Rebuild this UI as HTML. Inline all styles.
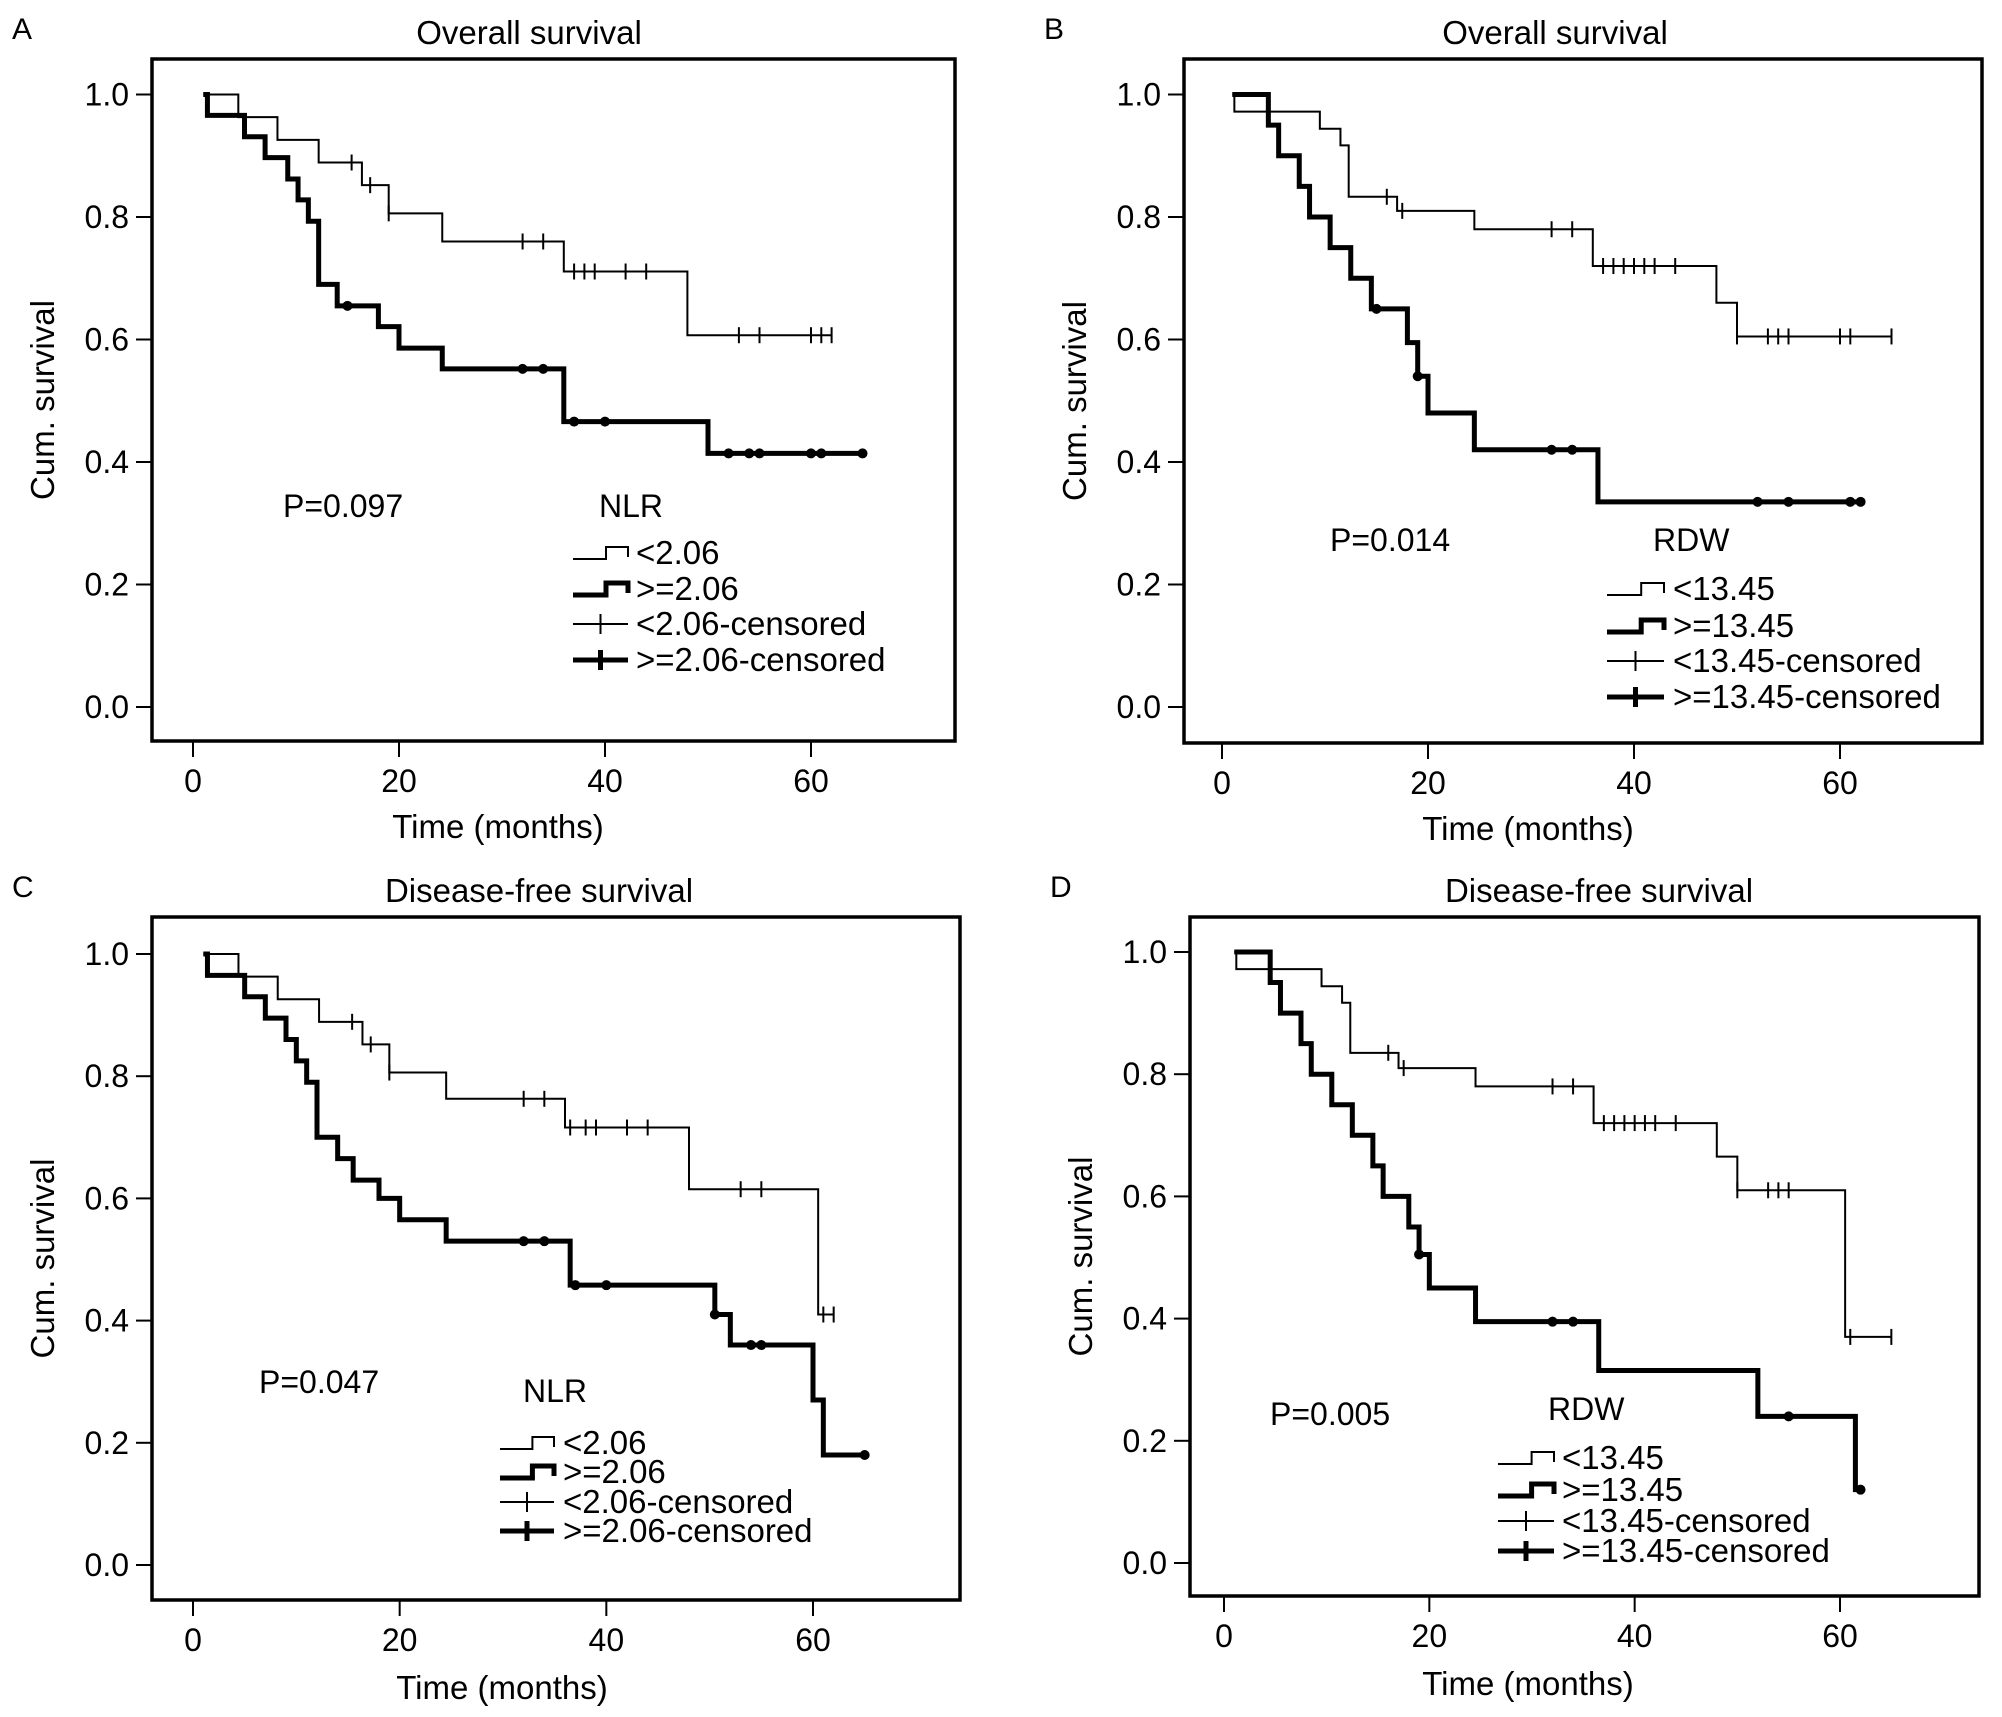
<!DOCTYPE html>
<html><head><meta charset="utf-8"><style>
html,body{margin:0;padding:0;background:#fff;}
svg{display:block;font-family:"Liberation Sans",Arial,sans-serif;}
</style></head><body>
<svg id="fig" width="2002" height="1717" viewBox="0 0 2002 1717" xmlns="http://www.w3.org/2000/svg"></svg>
<script>
// Panel A data
const aThinT=[4.4,8.2,12.2,16.4,19,24.2,36,48];
const aThinS=[0.963,0.926,0.889,0.852,0.806,0.76,0.711,0.607];
const aThinC=[15.4,17.2,19,32,34,37,38,39,42,44,53,55,60,61,62];
const aThickT=[1.4,5,7,9.2,10.2,11.2,12.2,14,18,20,24.2,36,50];
const aThickS=[0.966,0.931,0.897,0.862,0.828,0.793,0.69,0.655,0.621,0.586,0.552,0.466,0.414];
const aThickC=[15,32,34,37,40,52,54,55,60,61,65];
// Panel B data
const bThinT=[1.2,9.5,11.5,12.3,17,24.5,36,48,50];
const bThinS=[0.972,0.944,0.917,0.833,0.81,0.78,0.72,0.66,0.605];
const bThinC=[16,17.5,32,34,37,38,39,40,41,42,44,50,53,54,55,60,61,65];
const bThickT=[4.5,5.5,7.5,8.5,10.5,12.5,14.5,18,19,20,24.5,36.5];
const bThickS=[0.95,0.9,0.85,0.8,0.75,0.7,0.65,0.595,0.54,0.48,0.42,0.335];
const bThickC=[15,19,32,34,52,55,61,62];
// Panel C data
const cThinT=[4.4,8.2,12.2,16.4,19,24.5,36,48,60.5];
const cThinS=[0.963,0.926,0.889,0.852,0.806,0.763,0.716,0.615,0.41];
const cThinC=[15.4,17.2,19,32,34,36.5,38,39,42,44,53,55,61,62];
const cThickT=[1.4,5,7,9,10,11,12,14,15.5,18,20,24.5,36.5,50.5,52,60,61];
const cThickS=[0.965,0.93,0.895,0.86,0.825,0.79,0.70,0.665,0.63,0.60,0.565,0.53,0.458,0.41,0.36,0.27,0.18];
const cThickC=[32,34,37,40,50.5,54,55,65];
// Panel D data
const dThinT=[1.2,9.5,11.5,12.3,17,24.5,36,48,50,60.5];
const dThinS=[0.972,0.944,0.917,0.835,0.81,0.78,0.72,0.665,0.61,0.37];
const dThinC=[16,17.5,32,34,37,38,39,40,41,42,44,50,53,54,55,61,65];
const dThickT=[4.5,5.5,7.5,8.5,10.5,12.5,14.5,15.5,18,19,20,24.5,36.5,52,61.5];
const dThickS=[0.95,0.9,0.85,0.8,0.75,0.7,0.65,0.60,0.55,0.505,0.45,0.395,0.315,0.24,0.12];
const dThickC=[19,32,34,55,62];
// tick labels
const yTicks=[0,0.2,0.4,0.6,0.8,1.0];
const xTicks=[0,20,40,60];

const NS="http://www.w3.org/2000/svg";
const svg=document.getElementById('fig');
function mk(tag,attrs,parent){const e=document.createElementNS(NS,tag);for(const k in attrs)e.setAttribute(k,attrs[k]);(parent||svg).appendChild(e);return e;}

const panels=[
 {id:'a',letter:'A',title:'Overall survival',tcx:529,xcx:498,L:152,R:955,T:59,B:741,y1:94.5,y0:707,x0:193,x60:811,
  thinT:aThinT,thinS:aThinS,thinC:aThinC,thickT:aThickT,thickS:aThickS,thickC:aThickC,thinEnd:62,thickEnd:65,
  p:'P=0.097',px:283,py:517,var:'NLR',vx:599,vy:517,rows:[553,589,624,660],sx:573,sw:55,tx:636,lab:['<2.06','>=2.06','<2.06-censored','>=2.06-censored'],xt:826},
 {id:'b',letter:'B',title:'Overall survival',tcx:1555,xcx:1528,L:1184,R:1982,T:59,B:743,y1:94.5,y0:707,x0:1222,x60:1840,
  thinT:bThinT,thinS:bThinS,thinC:bThinC,thickT:bThickT,thickS:bThickS,thickC:bThickC,thinEnd:65,thickEnd:62,
  p:'P=0.014',px:1330,py:551,var:'RDW',vx:1653,vy:551,rows:[589,626,661,697],sx:1607,sw:57,tx:1673,lab:['<13.45','>=13.45','<13.45-censored','>=13.45-censored'],xt:828},
 {id:'c',letter:'C',title:'Disease-free survival',tcx:539,xcx:502,L:152,R:960,T:917,B:1600,y1:954,y0:1565,x0:193,x60:813,
  thinT:cThinT,thinS:cThinS,thinC:cThinC,thickT:cThickT,thickS:cThickS,thickC:cThickC,thinEnd:62,thickEnd:65,
  p:'P=0.047',px:259,py:1393,var:'NLR',vx:523,vy:1402,rows:[1443,1472,1502,1531],sx:500,sw:54,tx:563,lab:['<2.06','>=2.06','<2.06-censored','>=2.06-censored'],xt:1687},
 {id:'d',letter:'D',title:'Disease-free survival',tcx:1599,xcx:1528,L:1190,R:1979,T:917,B:1596,y1:952,y0:1563,x0:1224,x60:1840,
  thinT:dThinT,thinS:dThinS,thinC:dThinC,thickT:dThickT,thickS:dThickS,thickC:dThickC,thinEnd:65,thickEnd:62,
  p:'P=0.005',px:1270,py:1425,var:'RDW',vx:1548,vy:1420,rows:[1458,1490,1521,1551],sx:1498,sw:56,tx:1562,lab:['<13.45','>=13.45','<13.45-censored','>=13.45-censored'],xt:1683}
];

function survAt(T,S,t){let s=1;for(let i=0;i<T.length;i++){if(T[i]<=t)s=S[i];}return s;}

panels.forEach(P=>{
 const g=mk('g',{});
 
 
 const X=t=>P.x0+(P.x60-P.x0)*t/60;
 const Y=s=>P.y0+(P.y1-P.y0)*s;
 let t=mk('text',{x:P.L-140,y:P.T-20,'font-size':30},g);t.textContent=P.letter;
 
 t=mk('text',{x:P.tcx,y:P.T-15,'font-size':33,'text-anchor':'middle'},g);t.textContent=P.title;
 
 const fr=mk('rect',{x:P.L,y:P.T,width:P.R-P.L,height:P.B-P.T,fill:'none',stroke:'#000','stroke-width':3.5},g);
 
 yTicks.forEach(v=>{
  const l=mk('line',{x1:P.L-16,x2:P.L,y1:Y(v),y2:Y(v),stroke:'#000','stroke-width':2},g);
  
  const tx=mk('text',{x:P.L-23,y:Y(v)+11,'font-size':32,'text-anchor':'end'},g);tx.textContent=v.toFixed(1);
  
 });
 xTicks.forEach(v=>{
  const l=mk('line',{x1:X(v),x2:X(v),y1:P.B,y2:P.B+16,stroke:'#000','stroke-width':2},g);
  
  const tx=mk('text',{x:X(v),y:P.B+51,'font-size':32,'text-anchor':'middle'},g);tx.textContent=v;
  
 });
 t=mk('text',{x:P.xcx,y:P.xt+12,'font-size':33,'text-anchor':'middle'},g);t.textContent='Time (months)';
 
 const yc=(P.T+P.B)/2;
 t=mk('text',{x:P.L-98,y:yc,'font-size':33,'text-anchor':'middle',transform:`rotate(-90 ${P.L-98} ${yc})`},g);
 t.textContent='Cum. survival';
 function curve(T,S,end,w,name){
  let d=`M${X(1)},${Y(1)}`;
  T.forEach((tt,i)=>{d+=` H${X(tt)} V${Y(S[i])}`;});
  d+=` H${X(end)}`;
  const p=mk('path',{d:d,fill:'none',stroke:'#000','stroke-width':w},g);
  
 }
 curve(P.thinT,P.thinS,P.thinEnd,2,'curve-low-group');
 curve(P.thickT,P.thickS,P.thickEnd,5,'curve-high-group');
 P.thinC.forEach(c=>{const y=Y(survAt(P.thinT,P.thinS,c));
  const l=mk('line',{x1:X(c),x2:X(c),y1:y-8,y2:y+8,stroke:'#000','stroke-width':2},g);
  });
 P.thickC.forEach(c=>{const y=Y(survAt(P.thickT,P.thickS,c));
  const l=mk('circle',{cx:X(c),cy:y,r:5,fill:'#000'},g);
  });
 t=mk('text',{x:P.px,y:P.py,'font-size':32},g);t.textContent=P.p;
 
 t=mk('text',{x:P.vx,y:P.vy,'font-size':32},g);t.textContent=P.var;
 
 const lg=mk('g',{},g);
 P.rows.forEach((ry,i)=>{
  const x1=P.sx,x2=P.sx+P.sw,w=(i%2===0)?2:5;
  if(i<2){mk('path',{d:`M${x1},${ry+6} H${x1+P.sw*0.6} V${ry-6} H${x2} V${ry+4}`,fill:'none',stroke:'#000','stroke-width':w},lg);}
  else{mk('line',{x1:x1,x2:x2,y1:ry,y2:ry,stroke:'#000','stroke-width':w},lg);
   mk('line',{x1:(x1+x2)/2,x2:(x1+x2)/2,y1:ry-10,y2:ry+10,stroke:'#000','stroke-width':w===2?2:5},lg);}
  const tx=mk('text',{x:P.tx,y:ry+11,'font-size':33},lg);tx.textContent=P.lab[i];
  
 });
});
</script>
</body></html>
